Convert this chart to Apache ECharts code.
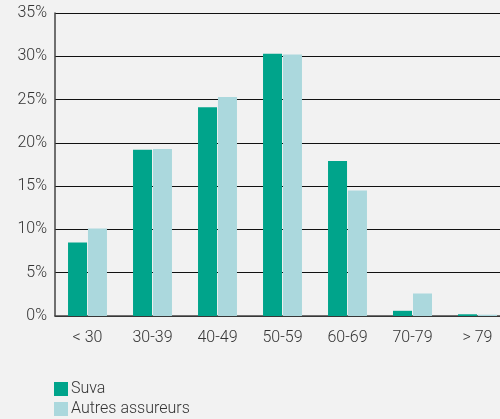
<!DOCTYPE html>
<html>
<head>
<meta charset="utf-8">
<script src="https://cdn.jsdelivr.net/npm/echarts@6/dist/echarts.min.js"></script>
<style>
html,body{margin:0;padding:0;background:#f2f2f2;overflow:hidden;}
#c{width:510px;height:419px;}
</style>
</head>
<body>
<div id="c"></div>
<script>
const categories = ['< 30', '30-39', '40-49', '50-59', '60-69', '70-79', '> 79'];
const suva = [8.5, 19.2, 24.1, 30.3, 17.9, 0.6, 0.2];
const autres = [10.1, 19.3, 25.3, 30.2, 14.5, 2.6, 0.15];
const seriesNames = ['Suva', 'Autres assureurs'];
const yTicks = { min: 0, max: 35, interval: 5 };

const font = 'Roboto, "Liberation Sans", sans-serif';
const chart = echarts.init(document.getElementById('c'));
chart.setOption({
  backgroundColor: '#f2f2f2',
  animation: false,
  grid: { left: 55, top: 13, right: 0, height: 303, containLabel: false },
  legend: {
    orient: 'vertical', left: 54, top: 381, padding: 0,
    itemWidth: 14, itemHeight: 14, itemGap: 4,
    icon: 'rect',
    textStyle: { fontFamily: font, fontSize: 16, fontWeight: 300, color: '#333', padding: [0, 0, 0, -2] },
    data: seriesNames
  },
  xAxis: {
    type: 'category', data: categories,
    axisLine: { lineStyle: { color: '#444', width: 1.5 } },
    axisTick: { show: false },
    axisLabel: { fontFamily: font, fontSize: 16, fontWeight: 300, color: '#333', margin: 14 }
  },
  yAxis: {
    type: 'value', min: yTicks.min, max: yTicks.max, interval: yTicks.interval,
    axisLine: { show: true, lineStyle: { color: '#444', width: 1.5 } },
    axisTick: { show: false },
    splitLine: { lineStyle: { color: '#111', width: 1 } },
    axisLabel: { formatter: '{value}%', fontFamily: font, fontSize: 16, fontWeight: 300, color: '#333', margin: 8 }
  },
  series: [
    { name: seriesNames[0], type: 'bar', data: suva, barWidth: 19, barGap: '5%',
      itemStyle: { color: '#00a48b' } },
    { name: seriesNames[1], type: 'bar', data: autres, barWidth: 19,
      itemStyle: { color: '#abd8dd' } }
  ]
});
</script>
</body>
</html>
